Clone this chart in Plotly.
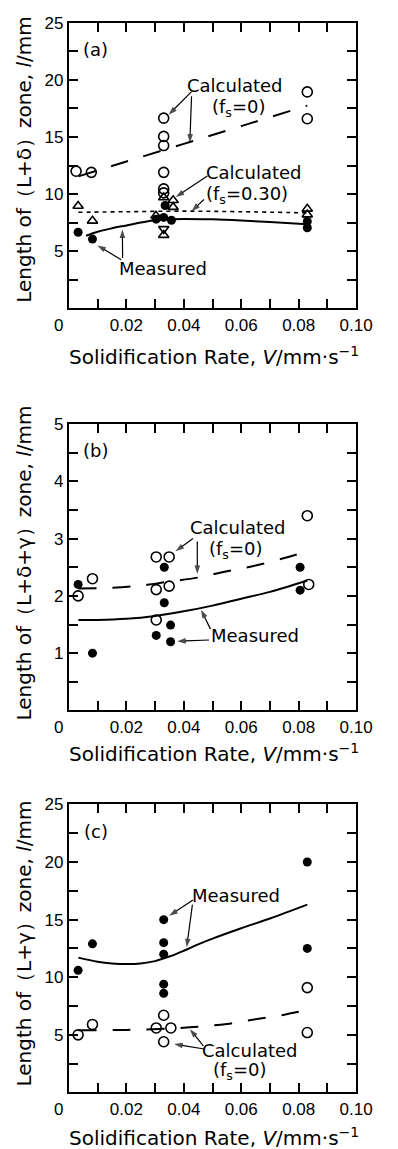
import plotly.graph_objects as go

# ---------------- data ----------------
# Panel (a): (L+delta) zone
a_calc0_x = [0.0025, 0.0078, 0.033, 0.033, 0.033, 0.033, 0.033, 0.033, 0.083, 0.083]
a_calc0_y = [12.0, 11.9, 16.65, 15.05, 14.25, 11.9, 10.45, 10.1, 18.95, 16.6]
a_calc30_x = [0.0032, 0.0082, 0.0303, 0.033, 0.0363, 0.0363, 0.033, 0.083, 0.083]
a_calc30_y = [8.95, 7.65, 8.1, 9.7, 9.45, 8.85, 6.4, 8.7, 8.2]
a_calc30d_x = [0.033]
a_calc30d_y = [6.95]
a_meas_x = [0.0032, 0.0082, 0.0304, 0.033, 0.0335, 0.0357, 0.083, 0.083]
a_meas_y = [6.65, 6.05, 7.8, 7.95, 9.0, 7.7, 7.6, 7.05]
a_fit_calc0_x = [0.0033, 0.02, 0.04, 0.06, 0.083]
a_fit_calc0_y = [11.55, 12.85, 14.4, 15.95, 17.75]
a_fit_calc30_x = [0.0033, 0.02, 0.04, 0.06, 0.083]
a_fit_calc30_y = [8.4, 8.45, 8.5, 8.45, 8.35]
a_fit_meas_x = [0.006, 0.01, 0.015, 0.02, 0.025, 0.03, 0.035, 0.04, 0.05, 0.06, 0.07, 0.083]
a_fit_meas_y = [6.35, 6.7, 7.0, 7.25, 7.5, 7.7, 7.8, 7.82, 7.78, 7.68, 7.55, 7.35]

# Panel (b): (L+delta+gamma) zone
b_calc0_x = [0.0032, 0.0082, 0.0304, 0.0349, 0.0304, 0.0349, 0.0304, 0.083, 0.0835]
b_calc0_y = [2.0, 2.3, 2.68, 2.68, 2.11, 2.17, 1.58, 3.4, 2.2]
b_meas_x = [0.0032, 0.0082, 0.0332, 0.0332, 0.0354, 0.0304, 0.0354, 0.0805, 0.0805]
b_meas_y = [2.2, 1.0, 2.5, 1.88, 1.49, 1.31, 1.2, 2.5, 2.1]
b_fit_calc0_x = [0.0033, 0.015, 0.025, 0.035, 0.045, 0.055, 0.065, 0.075, 0.083]
b_fit_calc0_y = [2.13, 2.14, 2.18, 2.25, 2.32, 2.43, 2.53, 2.66, 2.78]
b_fit_meas_x = [0.0033, 0.01, 0.02, 0.03, 0.04, 0.05, 0.06, 0.07, 0.083]
b_fit_meas_y = [1.58, 1.58, 1.6, 1.65, 1.73, 1.83, 1.95, 2.07, 2.27]

# Panel (c): (L+gamma) zone
c_meas_x = [0.0032, 0.0082, 0.033, 0.033, 0.033, 0.033, 0.033, 0.083, 0.083]
c_meas_y = [10.6, 12.9, 15.0, 13.0, 12.0, 9.4, 8.6, 20.0, 12.5]
c_calc0_x = [0.0032, 0.0082, 0.033, 0.0304, 0.0355, 0.033, 0.083, 0.083]
c_calc0_y = [5.0, 5.9, 6.7, 5.6, 5.6, 4.4, 9.1, 5.2]
c_fit_meas_x = [0.0033, 0.01, 0.015, 0.02, 0.025, 0.03, 0.035, 0.04, 0.045, 0.05, 0.06, 0.07, 0.083]
c_fit_meas_y = [11.7, 11.35, 11.2, 11.15, 11.2, 11.4, 11.8, 12.3, 12.85, 13.35, 14.25, 15.1, 16.3]
c_fit_calc0_x = [0.0033, 0.02, 0.035, 0.045, 0.055, 0.065, 0.075, 0.083]
c_fit_calc0_y = [5.4, 5.43, 5.55, 5.7, 5.95, 6.35, 6.75, 7.15]

x_major_vals = [0.02, 0.04, 0.06, 0.08, 0.10]
x_major_text = ["0.02", "0.04", "0.06", "0.08", "0.10"]
x_minor_vals = [0.01, 0.03, 0.05, 0.07, 0.09]
y25_major_vals = [5, 10, 15, 20, 25]
y25_major_text = ["5", "10", "15", "20", "25"]
y25_minor_vals = [2.5, 7.5, 12.5, 17.5, 22.5]
y5_major_vals = [1, 2, 3, 4, 5]
y5_major_text = ["1", "2", "3", "4", "5"]
y5_minor_vals = [0.5, 1.5, 2.5, 3.5, 4.5]

x_title = "Solidification Rate, <i>V</i>/mm·s<sup>−1</sup>"
y_titles = ["Length of（L+δ）zone, <i>l</i>/mm",
            "Length of（L+δ+γ）zone, <i>l</i>/mm",
            "Length of（L+γ）zone, <i>l</i>/mm"]
panel_labels = ["(a)", "(b)", "(c)"]

# ---------------- layout geometry ----------------
W, H = 398, 1149
XL, XR = 72, 372
panels_px = [(14, 301.5), (418.3, 707), (801.7, 1092)]

def fy(py):
    return 1 - py / H

def fx(px):
    return px / W

TXT = "DejaVu Sans"
TICKF = "Liberation Sans"
BLACK = "black"

fig = go.Figure()

def scatter(x, y, sym, ax, size=10, lw=1.6):
    fig.add_trace(go.Scatter(x=x, y=y, mode="markers", xaxis=ax[0], yaxis=ax[1],
                             marker=dict(symbol=sym, size=size, color=BLACK,
                                         line=dict(color=BLACK, width=lw)),
                             showlegend=False, hoverinfo="skip"))

def curve(x, y, dash, ax, w=2):
    fig.add_trace(go.Scatter(x=x, y=y, mode="lines", xaxis=ax[0], yaxis=ax[1],
                             line=dict(color=BLACK, width=w, dash=dash, shape="spline"),
                             showlegend=False, hoverinfo="skip"))

def arrow(tx, ty, hx, hy, ax):
    fig.add_trace(go.Scatter(x=[tx, hx], y=[ty, hy], mode="lines+markers",
                             xaxis=ax[0], yaxis=ax[1],
                             line=dict(color=BLACK, width=1.2),
                             marker=dict(symbol="arrow", size=[0, 9], angleref="previous",
                                         color=BLACK, line=dict(width=0)),
                             showlegend=False, hoverinfo="skip"))

A = ("x", "y"); B = ("x2", "y2"); C = ("x3", "y3")

curve(a_fit_calc0_x, a_fit_calc0_y, "18px,16px", A)
curve(a_fit_calc30_x, a_fit_calc30_y, "4px,4px", A, w=1.6)
curve(a_fit_meas_x, a_fit_meas_y, "solid", A)
scatter(a_calc0_x, a_calc0_y, "circle-open", A)
scatter(a_calc30_x, a_calc30_y, "triangle-up-open", A, size=9)
scatter(a_calc30d_x, a_calc30d_y, "triangle-down-open", A, size=9)
scatter(a_meas_x, a_meas_y, "circle", A, size=9, lw=0)

curve(b_fit_calc0_x, b_fit_calc0_y, "18px,16px", B)
curve(b_fit_meas_x, b_fit_meas_y, "solid", B)
scatter(b_calc0_x, b_calc0_y, "circle-open", B)
scatter(b_meas_x, b_meas_y, "circle", B, size=9, lw=0)

curve(c_fit_calc0_x, c_fit_calc0_y, "18px,16px", C)
curve(c_fit_meas_x, c_fit_meas_y, "solid", C)
scatter(c_calc0_x, c_calc0_y, "circle-open", C)
scatter(c_meas_x, c_meas_y, "circle", C, size=9, lw=0)

# pointer arrows (tail -> head)
arrow(0.0427, 18.97, 0.0347, 16.95, A)
arrow(0.0427, 18.57, 0.0421, 14.5, A)
arrow(0.0482, 11.58, 0.0372, 9.75, A)
arrow(0.047, 9.52, 0.0427, 8.5, A)
arrow(0.0182, 4.24, 0.0099, 5.5, A)
arrow(0.0187, 4.39, 0.0186, 6.9, A)

arrow(0.0432, 3.0, 0.0371, 2.78, B)
arrow(0.0447, 2.95, 0.0447, 2.38, B)
arrow(0.0493, 1.42, 0.046, 1.76, B)
arrow(0.0488, 1.23, 0.0377, 1.21, B)

arrow(0.0432, 16.7, 0.0349, 15.34, C)
arrow(0.043, 16.3, 0.041, 12.6, C)
arrow(0.0471, 3.77, 0.0366, 4.2, C)
arrow(0.0468, 4.05, 0.0421, 5.49, C)

layout = dict(width=W, height=H, autosize=False,
              margin=dict(l=0, r=0, t=0, b=0),
              paper_bgcolor="white", plot_bgcolor="white",
              showlegend=False)

axis_common = dict(showline=True, linewidth=2, linecolor=BLACK, mirror="ticks",
                   ticks="inside", ticklen=9, tickwidth=1.8, tickcolor=BLACK,
                   showgrid=False, zeroline=False,
                   tickfont=dict(family=TICKF, size=17, color=BLACK))

def minor(vals):
    return dict(tickmode="array", tickvals=vals, ticks="inside", ticklen=9,
                tickwidth=1.8, tickcolor=BLACK, showgrid=False)

for i, (top, bot) in enumerate(panels_px):
    sfx = "" if i == 0 else str(i + 1)
    layout["xaxis" + sfx] = dict(axis_common, domain=[fx(XL), fx(XR)], range=[0, 0.1],
                                 anchor="y" + sfx, tickmode="array",
                                 tickvals=x_major_vals, ticktext=x_major_text,
                                 minor=minor(x_minor_vals))
    if i == 1:
        yv, yt, ym, yr = y5_major_vals, y5_major_text, y5_minor_vals, [0, 5]
    else:
        yv, yt, ym, yr = y25_major_vals, y25_major_text, y25_minor_vals, [0, 25]
    layout["yaxis" + sfx] = dict(axis_common, domain=[fy(bot), fy(top)], range=yr,
                                 anchor="x" + sfx, tickmode="array",
                                 tickvals=yv, ticktext=yt, minor=minor(ym))

annotations = []

def text(x, y, s, xr, yr, size=18, fam=TXT, angle=0):
    annotations.append(dict(x=x, y=y, xref=xr, yref=yr, text=s, showarrow=False,
                            font=dict(family=fam, size=size, color=BLACK),
                            textangle=angle, xanchor="center", yanchor="middle"))

# axis titles, panel labels and origin label
xtitle_y = [350, 750, 1137]
ytitle_y = [152, 558, 942]
for i, (top, bot) in enumerate(panels_px):
    text(fx(224), fy(xtitle_y[i]), x_title, "paper", "paper", size=20)
    text(fx(25), fy(ytitle_y[i]), y_titles[i], "paper", "paper", size=20, angle=-90)
    text(fx(100), fy(top + 27), panel_labels[i], "paper", "paper", size=18)
    text(fx(61), fy(bot + 17), "0", "paper", "paper", size=17, fam=TICKF)

# panel (a) labels
text(0.0579, 19.55, "Calculated", "x", "y")
text(0.059, 17.55, "(f<sub>s</sub>=0)", "x", "y")
text(0.0643, 11.85, "Calculated", "x", "y")
text(0.062, 9.95, "(f<sub>s</sub>=0.30)", "x", "y")
text(0.0327, 3.46, "Measured", "x", "y")
# panel (b) labels
text(0.0587, 3.19, "Calculated", "x2", "y2")
text(0.058, 2.8, "(f<sub>s</sub>=0)", "x2", "y2")
text(0.0649, 1.3, "Measured", "x2", "y2")
# panel (c) labels
text(0.0583, 17.07, "Measured", "x3", "y3")
text(0.063, 3.65, "Calculated", "x3", "y3")
text(0.0593, 1.85, "(f<sub>s</sub>=0)", "x3", "y3")

layout["annotations"] = annotations
fig.update_layout(**layout)
fig.write_html("out.html", config={"displayModeBar": False},
               post_script="document.body.style.margin='0px';document.body.style.padding='0px';")
